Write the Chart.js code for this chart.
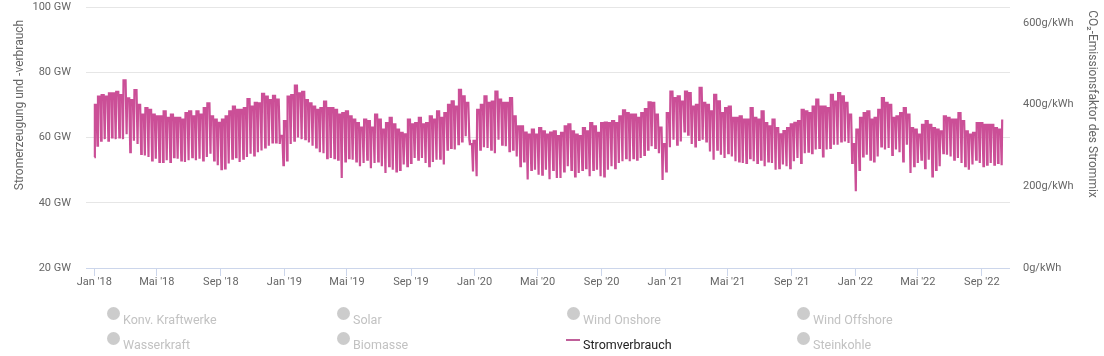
<!DOCTYPE html>
<html><head><meta charset="utf-8">
<script src="https://cdn.jsdelivr.net/npm/chart.js@4.4.0/dist/chart.umd.min.js"></script>
<style>
html,body{margin:0;padding:0;background:#fff;}
#wrap{position:relative;width:1104px;height:356px;overflow:hidden;font-family:Roboto,'Noto Sans',sans-serif;}
canvas{position:absolute;left:0;top:0;}
.li{position:absolute;font-size:12.5px;line-height:14px;white-space:nowrap;color:#c2c2c2;}
.dot{position:absolute;width:13px;height:13px;border-radius:50%;background:#cccccc;}
.ln{position:absolute;width:14px;height:2px;background:#c0609a;}
</style></head><body>
<div id="wrap"><canvas id="c" width="1104" height="356"></canvas></div>
<script>
// ---- data (GW, weekly: weekday peak and Sunday/holiday low), weeks start Monday 2018-01-01
const seriesName = 'Stromverbrauch';
const startDate = '2018-01-01';
const firstDayValue = 54;
const weekHigh = [
 70,72.5,73,72.5,73.5,73.5,74,73,77.5,72,71.5,74.5,70,67,69,68.5,67,66.5,66.5,68,66,67,66,66,65.5,67.5,68,66.5,68,67,69,70.5,66.5,65.5,64.5,65.5,66.5,68,69.5,68.5,68.5,69,71.8,69.5,70.6,70.5,73.4,72.5,71.5,72.8,71.6,60.5,65,
 72.5,73,75.9,73.5,74,71.5,70.5,69.5,68.5,69,71,69,69,68.5,67,67.5,68,66.5,65.5,64.4,63,65.5,65,63,67,65.5,62.4,64.4,66,64,62.4,61.4,61,65.5,64,64.4,66,64,64.4,66.5,65.5,68,66,67.5,70,71.1,69.5,74.6,72.6,70.6,58,59,
 68.5,70,72.6,70.6,71,74.1,71.6,70.6,70.6,72.1,66.5,63.4,63.4,61.5,60.9,62.4,60.9,62.9,61.9,60.9,61.5,61.9,60.4,61.4,63.4,64,61.9,60.9,60.4,62.9,61.9,64.4,63.4,61.4,64.4,64.6,64.4,65,64.4,66.5,68.3,67.5,67,67,66,67.5,68.7,70.8,70.6,67,63,58,
 67.5,74.1,72.1,72.6,71,74.1,73.6,69.5,70,75.2,70.6,70,68,73.1,71.1,67.5,69,69.5,66,66,66.5,65.5,65.5,69,66,65.5,68,64.4,63.4,65.5,62.9,61,62,62.9,64,64.5,65,68.5,68,67.5,69.5,71.6,69.5,69.5,69,73.1,71,73.6,72.6,70.6,67,58,
 62.4,66,67.5,68,65.5,66,68.5,72.1,70.6,70,66,66.5,67.5,69,67,62.9,62.4,60.9,63.9,65,63.9,62.9,62.4,61.9,66.5,66,65.5,65.5,67.5,65,61.9,60.9,61.4,64.4,64.4,63.9,63.9,63.9,62.9,62.4,65.5
];
const weekLow = [
 57.5,59,59.5,59,60,59.5,60,59.5,61,55.5,59,58,55,54.5,54,53,53.5,52.5,52.5,53,52.5,54,53.5,53,52.5,53,54,53,53.5,53,54,55,53,51.5,50.3,50.5,52,53.5,54,52.5,53.5,54,55,54.5,55.5,56,57,57.5,58.5,58.5,58,51.5,53,
 58,59,60,59.5,59.5,58.5,57.5,57,55.5,55.2,53.7,53.7,53.7,53.2,47.6,52.7,53.7,53.2,52.7,51.2,52.2,53.2,50.6,52.2,52.7,51.2,49.1,51.2,50.1,49.6,50.1,51.7,51.2,52.2,53.7,53.2,53.7,52.2,51.2,52.5,53.2,53.5,51.7,56.3,56.8,56.3,58,58.8,60.4,59.3,49.6,48.1,
 56.3,57,56.8,56.3,55.2,59.3,57.8,57.3,55.8,56.3,54.2,51.2,52.7,47.1,50.1,50.1,48.6,48.6,50.1,47.2,50.1,47.6,47.6,49.6,51.2,50.1,48.1,49.1,50.1,50.6,48.1,50.1,50.1,48.1,48.1,50.1,51.2,50.6,52.2,52.7,53.7,52.7,53.7,53.2,53.7,54.7,56.3,57.3,56.8,55.2,47,49.6,
 57,59.3,57.8,58.8,61.9,60.9,58,57.3,59.3,59.3,58.8,55.7,53.2,56.3,54.7,53.7,55.2,54.2,52.7,52.7,52.2,52.2,53.7,52.7,52.2,53.2,51.2,52.7,52.2,50.1,50.6,51.7,51.2,50.6,52.7,53.7,52.2,55.2,55.7,55.2,56.3,56.8,54.2,56.3,56.8,57.8,57.8,58.8,58.8,58.3,52.2,43.5,
 50.1,54.2,54.7,53.2,52.7,54.2,57.3,56.3,56.8,54.7,56.3,55.5,52.7,57.8,49.1,51.2,52.2,53.2,50.6,53.2,48.1,50.1,51.2,55.2,54.7,54.2,53.2,53.7,52.2,51.2,50.1,51.7,53.2,52.2,51.2,51.7,52.2,51.7,52.2,51.5
];
const tickDates = ['2018-01-01','2018-05-01','2018-09-01','2019-01-01','2019-05-01','2019-09-01','2020-01-01','2020-05-01','2020-09-01','2021-01-01','2021-05-01','2021-09-01','2022-01-01','2022-05-01','2022-09-01'];
const tickLabels = ["Jan '18","Mai '18","Sep '18","Jan '19","Mai '19","Sep '19","Jan '20","Mai '20","Sep '20","Jan '21","Mai '21","Sep '21","Jan '22","Mai '22","Sep '22"];
const leftTicks = [20,40,60,80,100];
const rightTicks = [0,200,400,600];
const leftTitle = 'Stromerzeugung und -verbrauch';
const rightTitle = 'CO\u2082-Emissionsfaktor des Strommix';
const legendLabels = ['Konv. Kraftwerke','Solar','Wind Onshore','Wind Offshore','Wasserkraft','Biomasse','Stromverbrauch','Steinkohle'];

// ---- build
const DAY = 86400000;
const t0 = Date.parse(startDate + 'T00:00:00Z');
const tickDays = tickDates.map(d => Math.round((Date.parse(d + 'T00:00:00Z') - t0) / DAY));
const points = [];
weekHigh.forEach((hi, w) => {
  const d = w * 7;
  if (w === 0) { points.push({x: 0, y: firstDayValue}); points.push({x: 1, y: hi}); }
  else points.push({x: d, y: hi});
  if (w < weekLow.length) { points.push({x: d + 4, y: hi}); points.push({x: d + 6, y: weekLow[w]}); }
});

const LINE = '#cb4f97';
const FONT = 'Roboto, "Noto Sans", sans-serif';
Chart.defaults.font.family = FONT;
const CLEAR = 'rgba(0,0,0,0)';

const axisTitles = {
  id: 'axisTitles',
  afterDraw(chart) {
    const ctx = chart.ctx;
    ctx.save();
    ctx.fillStyle = '#666666';
    ctx.font = '12px ' + FONT;
    ctx.textAlign = 'center'; ctx.textBaseline = 'middle';
    ctx.translate(20, 105); ctx.rotate(-Math.PI / 2); ctx.fillText(leftTitle, 0, 0);
    ctx.restore();
    ctx.save();
    ctx.fillStyle = '#666666';
    ctx.font = '12px ' + FONT;
    ctx.textAlign = 'center'; ctx.textBaseline = 'middle';
    ctx.translate(1092, 104); ctx.rotate(Math.PI / 2); ctx.fillText(rightTitle, 0, 0);
    ctx.restore();
  }
};

new Chart(document.getElementById('c'), {
  type: 'line',
  data: { datasets: [{ label: seriesName, data: points, borderColor: LINE, borderWidth: 2.2, pointRadius: 0, tension: 0, yAxisID: 'y', fill: false }] },
  options: {
    responsive: false, animation: false, devicePixelRatio: 1,
    layout: { padding: { top: 7, left: 0, right: 0, bottom: 0 } },
    plugins: { legend: { display: false }, tooltip: { enabled: false } },
    scales: {
      x: {
        type: 'linear', min: -16, max: 1758,
        afterBuildTicks: s => { s.ticks = tickDays.map(v => ({ value: v })); },
        afterFit: s => { s.height = 88; },
        ticks: { autoSkip: false, maxRotation: 0, minRotation: 0, color: '#666666', font: { size: 11 }, padding: 0,
          callback: v => { const i = tickDays.indexOf(v); return i >= 0 ? tickLabels[i] : ''; } },
        grid: { drawOnChartArea: false, drawTicks: true, tickLength: 8, color: '#ccd6eb' },
        border: { display: false }
      },
      y: {
        type: 'linear', position: 'left', min: 20, max: 100,
        afterBuildTicks: s => { s.ticks = leftTicks.map(v => ({ value: v })); },
        afterFit: s => { s.width = 86; },
        ticks: { color: '#666666', font: { size: 11 }, padding: 0, callback: v => v + ' GW' },
        grid: { drawTicks: true, tickLength: 15, tickColor: CLEAR, color: c => (c.tick && c.tick.value === 20) ? '#ccd6eb' : '#e6e6e6' },
        border: { display: false }
      },
      y2: {
        type: 'linear', position: 'right', min: 0, max: 639,
        afterBuildTicks: s => { s.ticks = rightTicks.map(v => ({ value: v })); },
        afterFit: s => { s.width = 94; },
        ticks: { color: '#666666', font: { size: 11 }, padding: 0, callback: v => v + 'g/kWh' },
        grid: { drawOnChartArea: false, drawTicks: true, tickLength: 13, tickColor: CLEAR },
        border: { display: false }
      }
    }
  },
  plugins: [axisTitles]
});

// ---- HTML legend
const wrap = document.getElementById('wrap');
legendLabels.forEach((lab, i) => {
  const col = i % 4, row = Math.floor(i / 4);
  const cx = 113 + 230 * col, cy = 313 + 25 * row;
  const active = lab === seriesName;
  if (active) {
    const l = document.createElement('div'); l.className = 'ln';
    l.style.left = (cx - 7) + 'px'; l.style.top = (cy + 1) + 'px'; wrap.appendChild(l);
  } else {
    const d = document.createElement('div'); d.className = 'dot';
    d.style.left = (cx - 6.5) + 'px'; d.style.top = (cy - 6.5) + 'px'; wrap.appendChild(d);
  }
  const t = document.createElement('div'); t.className = 'li'; t.textContent = lab;
  t.style.left = (cx + 10) + 'px'; t.style.top = cy + 'px';
  if (active) t.style.color = '#222222';
  wrap.appendChild(t);
});
</script>
</body></html>
